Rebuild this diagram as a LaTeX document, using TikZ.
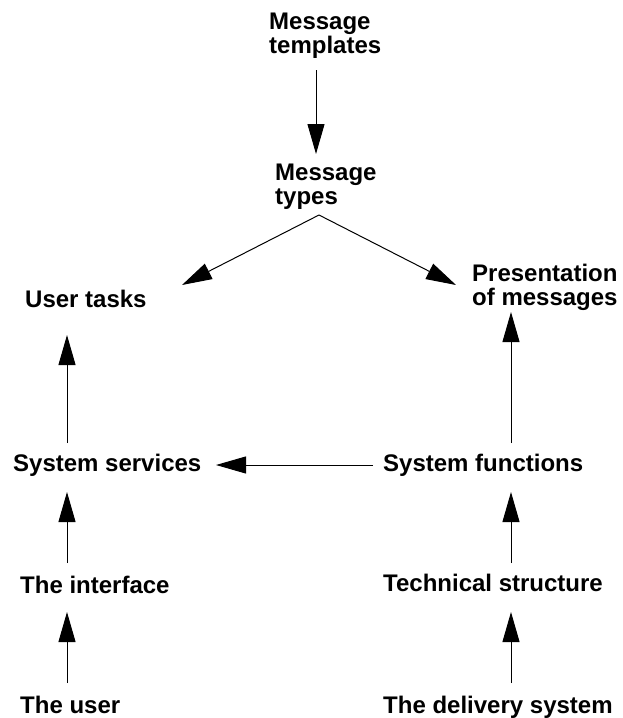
\documentclass[tikz,border=0pt]{standalone}
\usepackage{fontspec}
\setmainfont{Liberation Sans}
\usetikzlibrary{arrows.meta,calc}
\begin{document}
\begin{tikzpicture}[x=1pt,y=-1pt,
  lbl/.style={inner sep=0pt, anchor=base west, align=left,
    font=\fontsize{24}{23.5}\selectfont\bfseries},
  arr/.style={-{Triangle[length=30pt,width=17pt]}, line width=1pt}]
\useasboundingbox[fill=white] (0,0) rectangle (623,718);
% nodes (base west = baseline of the last line)
\node[lbl] (mt)  at (269,53)  {Message\\templates};
\node[lbl] (mty) at (275,204) {Message\\types};
\node[lbl] (ut)  at (25,307)  {User tasks};
\node[lbl] (pm)  at (472,305) {Presentation\\of messages};
\node[lbl] (ss)  at (13,471)  {System services};
\node[lbl] (sf)  at (383,471) {System functions};
\node[lbl] (ti)  at (20,593)  {The interface};
\node[lbl] (ts)  at (383,591) {Technical structure};
\node[lbl] (tu)  at (20,713)  {The user};
\node[lbl] (ds)  at (383,713) {The delivery system};
% connectors
\draw[arr] ($(mt.base west)+(47,17)$) -- ($(mty.base west)+(41,-50)$);
\draw[arr] ($(mty.base west)+(44,11)$) -- ($(ut.base west)+(157,-22)$);
\draw[arr] ($(mty.base west)+(44,11)$) -- ($(pm.base west)+(-16,-20)$);
\draw[arr] ($(ss.base west)+(54,-28)$) -- ($(ut.base west)+(42,28)$);
\draw[arr] ($(sf.base west)+(128,-28)$) -- ($(pm.base west)+(39,7)$);
\draw[arr] ($(sf.base west)+(-10,-6)$) -- ($(ss.base west)+(203,-6)$);
\draw[arr] ($(ti.base west)+(47,-30)$) -- ($(ss.base west)+(54,21)$);
\draw[arr] ($(ts.base west)+(128,-28)$) -- ($(sf.base west)+(128,21)$);
\draw[arr] ($(tu.base west)+(47,-30)$) -- ($(ti.base west)+(47,19)$);
\draw[arr] ($(ds.base west)+(128,-30)$) -- ($(ts.base west)+(128,21)$);
\end{tikzpicture}
\end{document}
